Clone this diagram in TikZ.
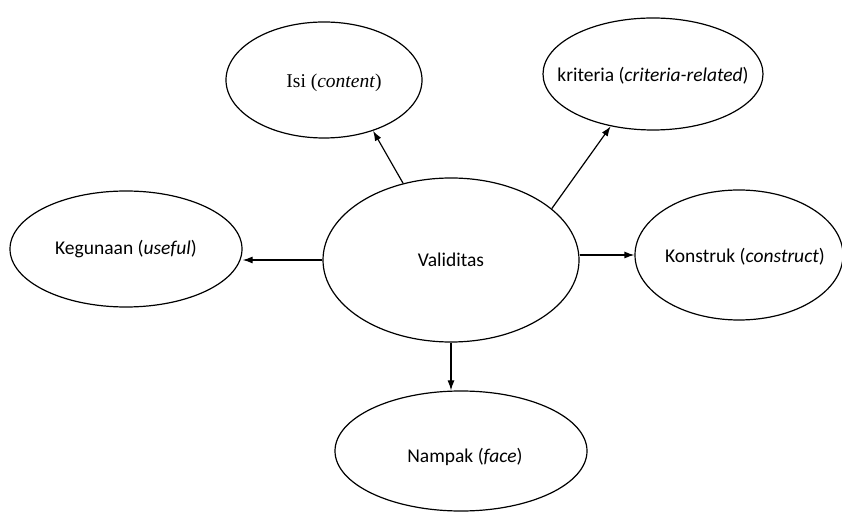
\documentclass[tikz,border=0pt]{standalone}
\usepackage{fontspec}
\setmainfont{Carlito}
\newfontfamily\timesfont{Liberation Serif}
\usetikzlibrary{arrows.meta, shapes.geometric}

\begin{document}
\begin{tikzpicture}[
    x=1pt, y=1pt, >={Latex[length=10pt,width=7pt]}, line width=1.2pt,
    every node/.style={font=\fontsize{19.5}{23}\selectfont},
    oval/.style={ellipse, draw, inner sep=0pt}
]
\useasboundingbox (0,0) rectangle (842,511);

% Centre
\node[oval, minimum width=256, minimum height=164, label=center:Validitas] (V) at (451,251) {};

% Surrounding kinds of validity
\node[oval, minimum width=196, minimum height=116,
      label={[font=\timesfont\fontsize{19.5}{23}\selectfont, xshift=10pt, yshift=-3pt]center:Isi (\textit{content})}] (I) at (324,431) {};
\node[oval, minimum width=220, minimum height=112,
      label={[yshift=-2pt]center:kriteria (\textit{criteria-related})}] (K) at (653,437) {};
\node[oval, minimum width=232, minimum height=116,
      label={center:Kegunaan (\textit{useful})}] (G) at (126,262) {};
\node[oval, minimum width=208, minimum height=130,
      label={[xshift=6pt, yshift=-2pt]center:Konstruk (\textit{construct})}] (C) at (739,256) {};
\node[oval, minimum width=252, minimum height=120,
      label={[xshift=4pt, yshift=-6pt]center:Nampak (\textit{face})}] (N) at (461,60) {};

% Arrows
\draw[->] (V.122.5) -- (I.-46.5);
\draw[->] (V.27.2) -- (K.231);
\draw[->] (V.west) -- (V.west -| G.east);
\draw[->] (V.east |- C.west) -- (C.west);
\draw[->] (V.south) -- (V.south |- N.north);
\end{tikzpicture}
\end{document}
